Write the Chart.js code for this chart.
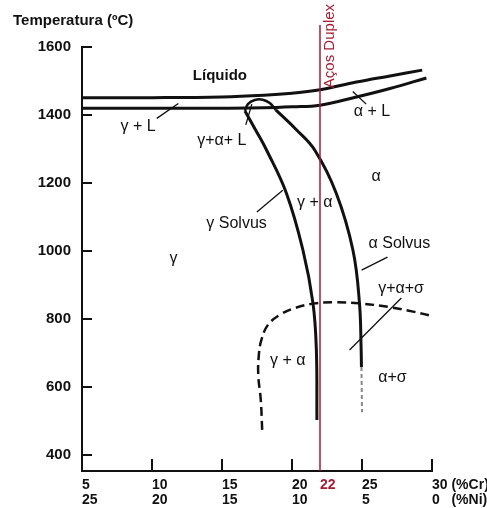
<!DOCTYPE html>
<html>
<head>
<meta charset="utf-8">
<script src="https://cdn.jsdelivr.net/npm/chart.js@4.4.1/dist/chart.umd.min.js"></script>
<style>
  html, body { margin: 0; padding: 0; background: #fff; }
  #wrap { width: 487px; height: 508px; }
</style>
</head>
<body>
<div id="wrap"><canvas id="c" width="487" height="508"></canvas></div>
<script>
// Composition axis: Cr (%) with the matching Ni (%) underneath
const crTicks = [5, 10, 15, 20, 22, 25, 30];
const crLabels = ['5', '10', '15', '20', '22', '25', '30 (%Cr)'];
const niLabels = ['25', '20', '15', '10', '', '5', '0   (%Ni)'];
const tempTicks = [400, 600, 800, 1000, 1200, 1400, 1600];
const duplexCr = 22;

// Liquidus / solidus (Cr %, °C)
const liquidusCr = [5, 10, 15, 18, 20, 22, 24.6, 27, 29.3];
const liquidusT  = [1451, 1451, 1453, 1458, 1464, 1474, 1497, 1515, 1532];
const solidusCr  = [5, 10, 15, 18, 20, 22, 24.6, 27, 29.6];
const solidusT   = [1420, 1420, 1420, 1421, 1424, 1429, 1453, 1478, 1509];

// three-phase cap joining the two solvus curves
const capCr = [16.64, 16.85, 17.34, 17.91, 18.41, 18.84];
const capT  = [1412, 1432, 1444, 1445, 1435, 1415];

// gamma solvus
const gammaSolvusCr = [16.64, 17.4, 18.18, 19.6, 20.78, 21.5, 21.74, 21.78];
const gammaSolvusT  = [1412, 1356, 1297, 1170, 1003, 846, 709, 503];

// alpha solvus (solid part, then uncertain continuation)
const alphaSolvusCr = [18.84, 20.33, 21.62, 23.16, 24.35, 24.82, 24.94, 24.96];
const alphaSolvusT  = [1415, 1356, 1297, 1170, 1003, 846, 709, 659];
const alphaTailCr = [24.96, 25.0];
const alphaTailT  = [659, 526];

// sigma solvus (dashed)
const sigmaCr = [17.87, 17.77, 17.59, 17.63, 17.81, 18.27, 19.12, 20.19, 21.62, 23.04, 24.82, 26.96, 28.74, 30];
const sigmaT  = [474, 562, 635, 694, 738, 782, 812, 832, 846, 849, 846, 835, 821, 809];

// duplex steel composition line
const duplexLineCr = [22, 22];
const duplexLineT  = [353, 1665];

// leader lines from the field names to their boundaries
const leaderGammaL   = { cr: [10.34, 11.88], t: [1390, 1434] };
const leaderThree    = { cr: [16.7, 17.13],  t: [1371, 1432] };
const leaderAlphaL   = { cr: [24.34, 25.3],  t: [1469, 1432] };
const leaderGammaSol = { cr: [17.49, 19.34], t: [1115, 1179] };
const leaderAlphaSol = { cr: [26.82, 24.97], t: [982, 944] };
const leaderSigma    = { cr: [27.81, 24.11], t: [862, 709] };

// phase field names
const fieldNames = ['Líquido', 'γ + L', 'γ+α+ L', 'α + L', 'α', 'γ + α', 'γ Solvus', 'γ', 'α Solvus', 'γ+α+σ', 'γ + α', 'α+σ'];
const fieldCr    = [14.85, 9.01, 14.99, 25.71, 26.0, 21.62, 16.04, 11.53, 27.67, 27.79, 19.7, 27.17];
const fieldT     = [1515, 1365, 1324, 1409, 1219, 1141, 1081, 978, 1021, 890, 679, 629];

const INK = '#111111';
const DUPLEX_RED = '#a41d32';
const FONT = '"Liberation Sans", Arial, sans-serif';

const pts = (xs, ys) => xs.map((x, i) => ({ x, y: ys[i] }));

function curve(xs, ys, extra) {
  return Object.assign({
    data: pts(xs, ys),
    showLine: true,
    borderColor: INK,
    borderWidth: 3,
    pointRadius: 0,
    tension: 0.4,
    fill: false,
    order: 1
  }, extra || {});
}

function leader(l) {
  return curve(l.cr, l.t, { borderWidth: 1.3, tension: 0 });
}

// short inward tick marks on both axes
const innerTicks = {
  id: 'innerTicks',
  afterDatasetsDraw(chart) {
    const { ctx, chartArea: a, scales: { x, y } } = chart;
    ctx.save();
    ctx.strokeStyle = INK;
    ctx.lineWidth = 2;
    ctx.beginPath();
    tempTicks.forEach(v => {
      const py = Math.round(y.getPixelForValue(v));
      ctx.moveTo(a.left, py);
      ctx.lineTo(a.left + 10, py);
    });
    crTicks.forEach(v => {
      if (v === duplexCr || v === crTicks[0]) return;
      const px = Math.round(x.getPixelForValue(v));
      ctx.moveTo(px, a.bottom);
      ctx.lineTo(px, a.bottom - 12);
    });
    ctx.stroke();
    ctx.restore();
  }
};

// phase field names and the duplex label
const fieldLabels = {
  id: 'fieldLabels',
  afterDatasetsDraw(chart) {
    const { ctx, scales: { x, y } } = chart;
    ctx.save();
    ctx.fillStyle = INK;
    ctx.textAlign = 'center';
    ctx.textBaseline = 'middle';
    fieldNames.forEach((name, i) => {
      ctx.font = (name === 'Líquido' ? 'bold 15px ' : '16px ') + FONT;
      ctx.fillText(name, x.getPixelForValue(fieldCr[i]), y.getPixelForValue(fieldT[i]));
    });
    // vertical caption beside the duplex line
    ctx.translate(x.getPixelForValue(duplexCr) + 10, y.getPixelForValue(1479));
    ctx.rotate(-Math.PI / 2);
    ctx.textAlign = 'left';
    ctx.fillStyle = DUPLEX_RED;
    ctx.font = '15px ' + FONT;
    ctx.fillText('Aços Duplex', 0, 0);
    ctx.restore();
  }
};

new Chart(document.getElementById('c'), {
  type: 'scatter',
  data: {
    datasets: [
      curve(duplexLineCr, duplexLineT, { borderColor: DUPLEX_RED, borderWidth: 1.5, tension: 0, clip: false, order: 0 }),
      curve(liquidusCr, liquidusT),
      curve(solidusCr, solidusT),
      curve(capCr, capT, { borderWidth: 2.5 }),
      curve(gammaSolvusCr, gammaSolvusT),
      curve(alphaSolvusCr, alphaSolvusT),
      curve(alphaTailCr, alphaTailT, { borderColor: '#8a8a8a', borderWidth: 2, borderDash: [4, 3], tension: 0 }),
      curve(sigmaCr, sigmaT, { borderWidth: 2.5, borderDash: [9, 5] }),
      leader(leaderGammaL),
      leader(leaderThree),
      leader(leaderAlphaL),
      leader(leaderGammaSol),
      leader(leaderAlphaSol),
      leader(leaderSigma)
    ]
  },
  options: {
    responsive: false,
    animation: false,
    devicePixelRatio: 1,
    layout: { padding: { left: 13, right: 55, top: 0, bottom: 0 } },
    plugins: {
      legend: { display: false },
      tooltip: { enabled: false },
      title: {
        display: true,
        text: 'Temperatura (ºC)',
        align: 'start',
        color: INK,
        font: { family: FONT, size: 15, weight: 'bold', lineHeight: 1.2 },
        padding: { top: 12, bottom: 17 }
      }
    },
    scales: {
      x: {
        type: 'linear',
        min: 5,
        max: 30,
        afterBuildTicks: s => { s.ticks = crTicks.map(v => ({ value: v })); },
        afterFit: s => { s.height = 37; s.paddingLeft = 0; s.paddingRight = 0; },
        grid: { display: false, drawTicks: false },
        border: { display: true, color: INK, width: 2 },
        ticks: {
          autoSkip: false,
          maxRotation: 0,
          align: 'start',
          padding: 7,
          color: c => (c.tick && c.tick.value === duplexCr ? DUPLEX_RED : INK),
          font: { family: FONT, size: 14, weight: 'bold', lineHeight: 1.05 },
          callback: v => {
            const i = crTicks.indexOf(v);
            return [crLabels[i], niLabels[i]];
          }
        }
      },
      y: {
        type: 'linear',
        min: 353,
        max: 1600,
        afterBuildTicks: s => { s.ticks = tempTicks.map(v => ({ value: v })); },
        afterFit: s => { s.width = 69; },
        grid: { display: false, drawTicks: false },
        border: { display: true, color: INK, width: 2 },
        ticks: {
          padding: 11,
          color: INK,
          font: { family: FONT, size: 15, weight: 'bold' },
          callback: v => String(v)
        }
      }
    }
  },
  plugins: [innerTicks, fieldLabels]
});
</script>
</body>
</html>
